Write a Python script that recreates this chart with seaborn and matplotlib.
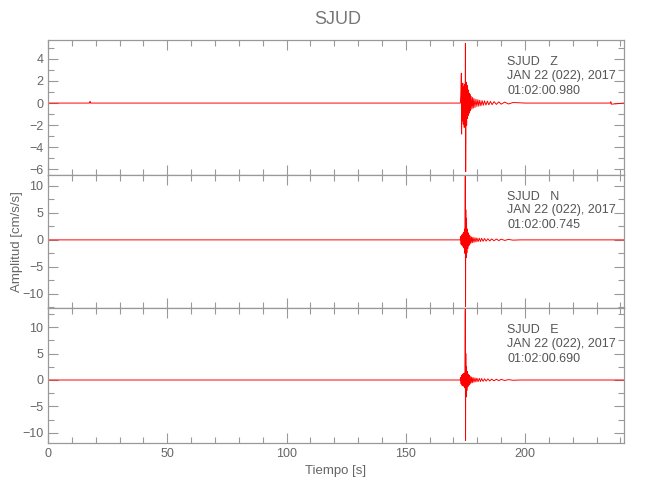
import numpy as np
import pandas as pd
import seaborn as sns
import matplotlib.pyplot as plt
from matplotlib.ticker import MultipleLocator

sns.set_style('ticks')
plt.rcParams['font.family'] = ['Liberation Sans', 'DejaVu Sans']

# %% DATA (station SJUD, 2017-01-22)
station = 'SJUD'
components = ['Z', 'N', 'E']
start_times = ['01:02:00.980', '01:02:00.745', '01:02:00.690']
date_label = 'JAN 22 (022), 2017'

t_z = [0, 17.4, 17.6, 17.8, 172.9, 173.1, 173.3, 173.4, 173.5, 173.7, 173.9, 174.1,
       174.3, 174.5, 174.7, 174.9, 175.0, 175.1, 175.3, 175.5, 175.7, 175.9, 176.1,
       176.3, 176.5, 176.7, 176.9, 177.1, 177.4, 177.7, 178.0, 178.3, 178.6, 179.0,
       179.4, 179.8, 180.2, 180.6, 181.0, 181.5, 182.0, 182.5, 183.0, 183.6, 184.2,
       184.8, 185.5, 186.2, 187.0, 188.0, 189.0, 190.0, 191.5, 193.0, 195.0, 200.0,
       235.8, 236.0, 236.2, 241.5]
a_z = [0, 0, 0.15, 0, 0, 0.8, 2.7, -2.8, 1.4, -1.6, 1.8, -1.9,
       1.5, -2.2, 1.7, -1.5, 5.4, -6.2, 1.9, -2.0, 1.6, -1.4, 1.2,
       -1.1, 0.9, -0.9, 0.8, -0.7, 0.6, -0.55, 0.5, -0.45, 0.4, -0.4,
       0.35, -0.3, 0.3, -0.28, 0.25, -0.25, 0.22, -0.2, 0.2, -0.18, 0.18,
       -0.16, 0.15, -0.14, 0.13, -0.12, 0.11, -0.1, 0.09, -0.08, 0.05, 0,
       0, 0.12, -0.1, 0]

t_n = [0, 172.8, 173.0, 173.2, 173.4, 173.6, 173.8, 174.0, 174.2, 174.4, 174.6, 174.8,
       174.95, 175.05, 175.15, 175.3, 175.45, 175.6, 175.8, 176.0, 176.2, 176.4, 176.6,
       176.8, 177.0, 177.3, 177.6, 177.9, 178.2, 178.6, 179.0, 179.4, 179.8, 180.3,
       180.8, 181.3, 181.8, 182.4, 183.0, 183.7, 184.4, 185.2, 186.0, 187.0, 188.0,
       189.0, 190.0, 191.5, 193.0, 195.0, 198.0, 241.5]
a_n = [0, 0, 0.6, -0.8, 0.9, -1.0, 1.1, -1.2, 1.4, -1.5, 2.0, -2.5,
       13.5, -12.3, 5.6, -3.3, 4.0, -2.4, 2.0, -1.6, 1.3, -1.1, 0.9,
       -0.8, 0.7, -0.6, 0.55, -0.5, 0.45, -0.45, 0.4, -0.38, 0.35, -0.32,
       0.3, -0.3, 0.28, -0.26, 0.25, -0.22, 0.2, -0.2, 0.18, -0.16, 0.15,
       -0.13, 0.12, -0.1, 0.08, -0.05, 0, 0]

t_e = [0, 172.8, 173.0, 173.2, 173.4, 173.6, 173.8, 174.0, 174.2, 174.4, 174.6, 174.8,
       174.95, 175.05, 175.15, 175.3, 175.45, 175.6, 175.8, 176.0, 176.2, 176.4, 176.6,
       176.8, 177.0, 177.3, 177.6, 177.9, 178.2, 178.6, 179.0, 179.4, 179.8, 180.3,
       180.8, 181.3, 181.8, 182.4, 183.0, 183.7, 184.4, 185.2, 186.0, 187.0, 188.0,
       189.0, 190.0, 191.5, 193.0, 195.0, 198.0, 241.5]
a_e = [0, 0, 0.5, -0.7, 0.9, -1.0, 1.1, -1.1, 1.2, -1.2, 1.3, -1.5,
       14.0, -11.4, 5.0, -3.2, 2.5, -2.0, 1.6, -1.3, 1.1, -1.0, 0.9,
       -0.8, 0.7, -0.6, 0.55, -0.5, 0.45, -0.42, 0.4, -0.36, 0.34, -0.3,
       0.3, -0.28, 0.26, -0.24, 0.22, -0.2, 0.2, -0.18, 0.16, -0.15, 0.14,
       -0.12, 0.11, -0.09, 0.07, -0.05, 0, 0]

traces = [(t_z, a_z), (t_n, a_n), (t_e, a_e)]
ylims = [(-6.5, 5.7), (-12.6, 12.0), (-11.9, 13.6)]
y_major = [2, 5, 5]
y_minor = [1, 2.5, 2.5]

# %% PLOT
fig = plt.figure(figsize=(6.5, 5), dpi=100)
tops = [0.92, 0.65, 0.384]
bottoms = [0.65, 0.384, 0.114]

for i, (t, a) in enumerate(traces):
    ax = fig.add_axes([0.074, bottoms[i], 0.886, tops[i] - bottoms[i]])
    df = pd.DataFrame({'t': t, 'amp': a})
    sns.lineplot(data=df, x='t', y='amp', color='red', linewidth=0.7,
                 estimator=None, ax=ax)
    ax.set_xlim(0, 241.5)
    ax.set_ylim(*ylims[i])
    ax.xaxis.set_major_locator(MultipleLocator(50))
    ax.xaxis.set_minor_locator(MultipleLocator(10))
    ax.yaxis.set_major_locator(MultipleLocator(y_major[i]))
    ax.yaxis.set_minor_locator(MultipleLocator(y_minor[i]))
    ax.tick_params(which='both', direction='in', top=True, right=True,
                   color='#999999', labelcolor='#666666', labelsize=9, width=0.8)
    ax.tick_params(which='major', length=7)
    ax.tick_params(which='minor', length=4)
    for sp in ax.spines.values():
        sp.set_color('#999999')
        sp.set_linewidth(0.9)
    ax.set_xlabel('')
    ax.set_ylabel('')
    if i < 2:
        ax.set_xticklabels([])
    else:
        ax.set_xlabel('Tiempo [s]', color='#666666', fontsize=9.5)
    if i == 1:
        ax.set_ylabel('Amplitud [cm/s/s]', color='#666666', fontsize=9.5)
        ax.yaxis.set_label_coords(-0.043, 0.5)
    ax.text(0.797, 0.835, f'{station}   {components[i]}', transform=ax.transAxes,
            color='#555555', fontsize=9, va='center')
    ax.text(0.797, 0.735, date_label, transform=ax.transAxes,
            color='#555555', fontsize=9, va='center')
    ax.text(0.797, 0.625, start_times[i], transform=ax.transAxes,
            color='#555555', fontsize=9, va='center')

fig.text(0.52, 0.96, station, ha='center', va='center', color='#777777', fontsize=13)

plt.savefig('out.png', dpi=100)
